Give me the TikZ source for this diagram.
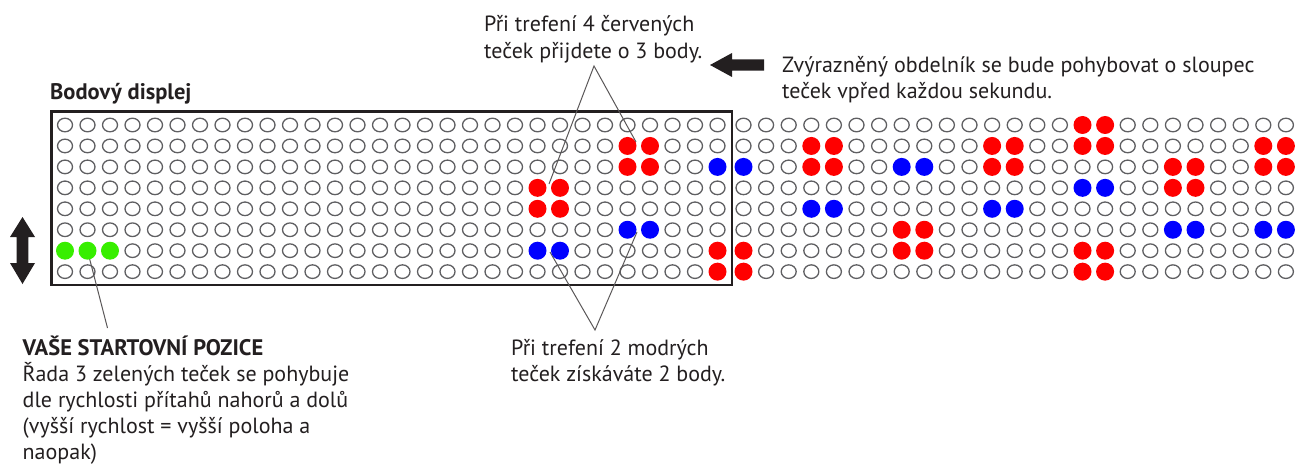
\documentclass[tikz,border=0pt]{standalone}
\usepackage{fontspec}
\setmainfont{PT Sans}
\definecolor{dotred}{RGB}{255,0,0}
\definecolor{dotblue}{RGB}{0,0,255}
\definecolor{dotgreen}{RGB}{55,238,0}
\definecolor{ink}{RGB}{35,31,32}
\definecolor{ring}{RGB}{95,95,98}
\tikzset{
  txt/.style={anchor=base west, inner sep=0pt, text=ink, font=\fontsize{22}{26}\selectfont},
  btxt/.style={txt, font=\fontsize{22.5}{26}\selectfont\bfseries},
  opendot/.style={draw=ring, line width=1.3pt},
  callout/.style={draw=ink!75, line width=1pt},
  blockarrow/.style={fill=ink},
}
\newcommand{\colx}[1]{\pgfmathsetmacro{\cx}{ifthenelse(#1<30,65+22.5*#1,743.5+22.6*(#1-30))}}
\newcommand{\rowy}[1]{\pgfmathsetmacro{\cy}{125+20.95*#1}}
\begin{document}
\begin{tikzpicture}[x=1pt,y=-1pt]
\useasboundingbox (0,0) rectangle (1295,465);
% open dots
\foreach \k in {0,...,54}{
  \colx{\k}
  \foreach \r in {0,...,7}{
    \rowy{\r}
    \draw[opendot] (\cx,\cy) ellipse [x radius=7.5pt, y radius=6.8pt];
  }
}
% display frame
\draw[ink, line width=2.6pt] (51.7,111.7) rectangle (732,285);
% connectors
\coordinate (apexTop) at (594,66);
\coordinate (redA) at (549,184);
\coordinate (redB) at (636,142);
\coordinate (apexBot) at (595,330);
\coordinate (blueA) at (550,252);
\coordinate (blueB) at (637,232);
\coordinate (greenEnd) at (107.5,328);
\colx{1}\rowy{6}
\coordinate (greenDot) at (\cx,\cy);
\draw[callout] (redA) -- (apexTop) -- (redB);
\draw[callout] (blueA) -- (apexBot) -- (blueB);
\draw[callout] (greenDot) -- (greenEnd);
% filled dots
\foreach \k/\r in {25/1,26/1,25/2,26/2,21/3,22/3,21/4,22/4,29/6,30/6,29/7,30/7,33/1,34/1,33/2,34/2,41/1,42/1,41/2,42/2,37/5,38/5,37/6,38/6,45/0,46/0,45/1,46/1,53/1,54/1,53/2,54/2,49/2,50/2,49/3,50/3,45/6,46/6,45/7,46/7}{
  \colx{\k}\rowy{\r}
  \fill[dotred] (\cx,\cy) circle [radius=9pt];
}
\foreach \k/\r in {29/2,30/2,25/5,26/5,21/6,22/6,37/2,38/2,33/4,34/4,41/4,42/4,45/3,46/3,49/5,50/5,53/5,54/5}{
  \colx{\k}\rowy{\r}
  \fill[dotblue] (\cx,\cy) circle [radius=9pt];
}
\foreach \k/\r in {0/6,1/6,2/6}{
  \colx{\k}\rowy{\r}
  \fill[dotgreen] (\cx,\cy) circle [radius=9pt];
}
% arrows
\fill[blockarrow] (710,65) -- (732,53) -- (732,59.3) -- (764,59.3) -- (764,70.7) -- (732,70.7) -- (732,77) -- cycle;
\fill[blockarrow] (22.5,217) -- (35,237) -- (28.3,237) -- (28.3,263) -- (35,263) -- (22.5,284) -- (10,263) -- (16.7,263) -- (16.7,237) -- (10,237) -- cycle;
% texts
\node[txt] (red1) at (484,31.7) {Při trefení 4 červených};
\node[txt] (red2) at (484,58.3) {teček přijdete o 3 body.};
\node[txt] (move1) at (782,72.5) {Zvýrazněný obdelník se bude pohybovat o sloupec};
\node[txt] (move2) at (782,99) {teček vpřed každou sekundu.};
\node[btxt] (disp) at (50,100) {Bodový displej};
\node[btxt] (start0) at (22.5,355) {VAŠE STARTOVNÍ POZICE};
\node[txt] (start1) at (22.5,381.5) {Řada 3 zelených teček se pohybuje};
\node[txt] (start2) at (22.5,407.5) {dle rychlosti přítahů nahorů a dolů};
\node[txt] (start3) at (22.5,433.5) {(vyšší rychlost = vyšší poloha a};
\node[txt] (start4) at (22.5,459.5) {naopak)};
\node[txt] (blue1) at (511,355) {Při trefení 2 modrých};
\node[txt] (blue2) at (511,381.7) {teček získáváte 2 body.};
\end{tikzpicture}
\end{document}
